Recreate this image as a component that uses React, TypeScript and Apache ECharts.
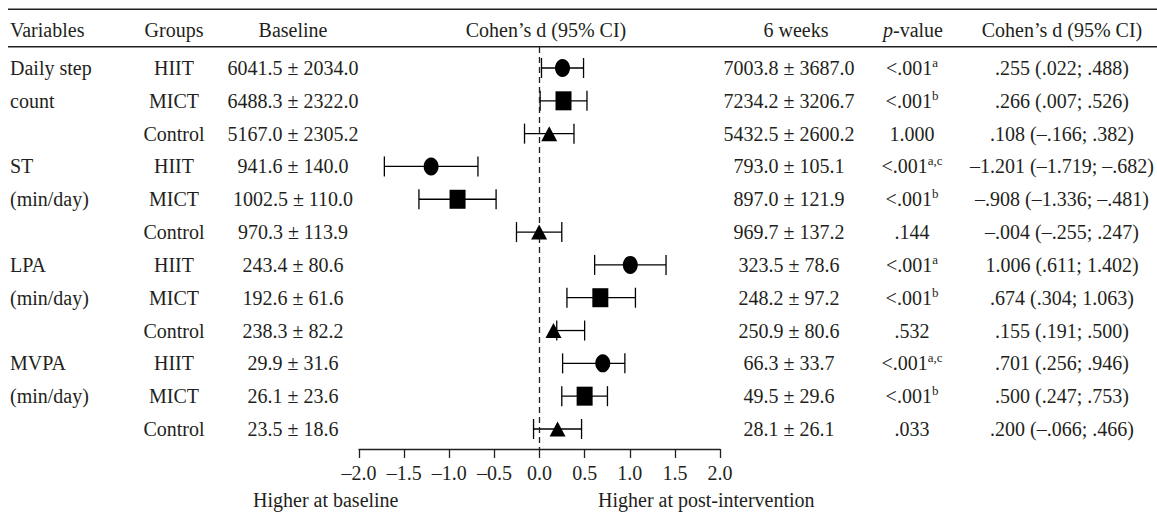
import React, { useEffect, useRef } from "react";
import * as echarts from "echarts";

const FONT = '"Liberation Serif", "Times New Roman", serif';
const INK = "#231f20";
const FS = 20;

const variables = ["Daily step", "count", "", "ST", "(min/day)", "", "LPA", "(min/day)", "", "MVPA", "(min/day)", ""];
const groups = ["HIIT", "MICT", "Control", "HIIT", "MICT", "Control", "HIIT", "MICT", "Control", "HIIT", "MICT", "Control"];
const baseline = [
  "6041.5 ± 2034.0", "6488.3 ± 2322.0", "5167.0 ± 2305.2",
  "941.6 ± 140.0", "1002.5 ± 110.0", "970.3 ± 113.9",
  "243.4 ± 80.6", "192.6 ± 61.6", "238.3 ± 82.2",
  "29.9 ± 31.6", "26.1 ± 23.6", "23.5 ± 18.6",
];
const weeks6 = [
  "7003.8 ± 3687.0", "7234.2 ± 3206.7", "5432.5 ± 2600.2",
  "793.0 ± 105.1", "897.0 ± 121.9", "969.7 ± 137.2",
  "323.5 ± 78.6", "248.2 ± 97.2", "250.9 ± 80.6",
  "66.3 ± 33.7", "49.5 ± 29.6", "28.1 ± 26.1",
];
const pValues = ["<.001", "<.001", "1.000", "<.001", "<.001", ".144", "<.001", "<.001", ".532", "<.001", "<.001", ".033"];
const pSup = ["a", "b", "", "a,c", "b", "", "a", "b", "", "a,c", "b", ""];
const cohenText = [
  ".255 (.022; .488)", ".266 (.007; .526)", ".108 (–.166; .382)",
  "–1.201 (–1.719; –.682)", "–.908 (–1.336; –.481)", "–.004 (–.255; .247)",
  "1.006 (.611; 1.402)", ".674 (.304; 1.063)", ".155 (.191; .500)",
  ".701 (.256; .946)", ".500 (.247; .753)", ".200 (–.066; .466)",
];
const dValues = [0.255, 0.266, 0.108, -1.201, -0.908, -0.004, 1.006, 0.674, 0.155, 0.701, 0.5, 0.2];
const ciLow = [0.022, 0.007, -0.166, -1.719, -1.336, -0.255, 0.611, 0.304, 0.191, 0.256, 0.247, -0.066];
const ciHigh = [0.488, 0.526, 0.382, -0.682, -0.481, 0.247, 1.402, 1.063, 0.5, 0.946, 0.753, 0.466];
const headers = ["Variables", "Groups", "Baseline", "Cohen’s d (95% CI)", "6 weeks", "p-value", "Cohen’s d (95% CI)"];

export default function App() {
  const ref = useRef<HTMLDivElement>(null);
  useEffect(() => {
    if (!ref.current) return;
    const chart = echarts.init(ref.current, undefined, { renderer: "svg" });
    const symbolFor: Record<string, any> = {
      HIIT: { symbol: "circle", size: [15, 18] },
      MICT: { symbol: "rect", size: [16, 19] },
      Control: { symbol: "triangle", size: [16, 15] },
    };
    const scatterSeries = ["HIIT", "MICT", "Control"].map((g) => ({
      type: "scatter",
      name: g,
      symbol: symbolFor[g].symbol,
      symbolSize: symbolFor[g].size,
      itemStyle: { color: "#000", opacity: 1 },
      z: 5,
      silent: true,
      data: dValues.map((d, i) => (groups[i] === g ? [d, i] : null)).filter((v) => v),
    }));
    chart.setOption({
      animation: false,
      grid: { left: 359, width: 361, top: 47, height: 402 },
      xAxis: {
        type: "value",
        min: -2,
        max: 2,
        interval: 0.5,
        axisLine: { show: true, onZero: false, lineStyle: { color: INK, width: 1.3 } },
        axisTick: { show: true, inside: false, length: 9, lineStyle: { color: INK, width: 1.3 } },
        splitLine: { show: false },
        axisLabel: {
          margin: 14,
          fontFamily: FONT,
          fontSize: FS,
          color: INK,
          formatter: (v: number) => (v < 0 ? "–" : "") + Math.abs(v).toFixed(1),
        },
      },
      yAxis: { type: "value", inverse: true, min: -0.64, max: 11.61, show: false },
      series: [
        {
          type: "custom",
          silent: true,
          z: 3,
          data: ciLow.map((lo, i) => [lo, ciHigh[i], i]),
          encode: { x: [0, 1], y: 2 },
          renderItem: (params: any, api: any) => {
            const lo = api.value(0);
            const hi = api.value(1);
            const row = api.value(2);
            const p1 = api.coord([lo, row]);
            const p2 = api.coord([hi, row]);
            const h = 10;
            const st = { stroke: "#000", lineWidth: 1.3 };
            return {
              type: "group",
              children: [
                { type: "line", shape: { x1: p1[0], y1: p1[1], x2: p2[0], y2: p2[1] }, style: st },
                { type: "line", shape: { x1: p1[0], y1: p1[1] - h, x2: p1[0], y2: p1[1] + h }, style: st },
                { type: "line", shape: { x1: p2[0], y1: p2[1] - h, x2: p2[0], y2: p2[1] + h }, style: st },
              ],
            };
          },
          markLine: {
            silent: true,
            symbol: "none",
            label: { show: false },
            lineStyle: { type: [6, 4], color: INK, width: 1.3 },
            data: [{ xAxis: 0 }],
          },
        },
        ...scatterSeries,
      ],
    });

    const rowY = (i: number) => chart.convertToPixel({ yAxisIndex: 0 } as any, i) as number;
    const txt = (text: string, x: number, y: number, align: string, extra: any = {}) => ({
      type: "text",
      silent: true,
      style: {
        text,
        x,
        y,
        font: `${FS}px ${FONT}`,
        fill: INK,
        align,
        verticalAlign: "middle",
        textAlign: align,
        textVerticalAlign: "middle",
        ...extra,
      },
    });
    const headerX = [10, 174, 293, 546, 796, 913, 1062];
    const headerAlign = ["left", "center", "center", "center", "center", "center", "center"];
    const elements: any[] = [];
    elements.push({ type: "line", silent: true, shape: { x1: 8, y1: 9.3, x2: 1157, y2: 9.3 }, style: { stroke: INK, lineWidth: 1.4 } });
    elements.push({ type: "line", silent: true, shape: { x1: 8, y1: 46.7, x2: 1157, y2: 46.7 }, style: { stroke: INK, lineWidth: 1.4 } });
    headers.forEach((h, k) => {
      if (h === "p-value") {
        elements.push(
          txt("{i|p}{n|-value}", headerX[k], 30, "center", {
            rich: {
              i: { font: `italic ${FS}px ${FONT}`, fill: INK, color: INK },
              n: { font: `${FS}px ${FONT}`, fill: INK, color: INK },
            },
          })
        );
      } else {
        elements.push(txt(h, headerX[k], 30, headerAlign[k]));
      }
    });
    for (let i = 0; i < variables.length; i++) {
      const y = rowY(i);
      if (variables[i]) elements.push(txt(variables[i], 10, y, "left"));
      elements.push(txt(groups[i], 174, y, "center"));
      elements.push(txt(baseline[i], 293, y, "center"));
      elements.push(txt(weeks6[i], 789, y, "center"));
      const pRich = pSup[i] ? `{n|${pValues[i]}}{s|${pSup[i]}}` : `{n|${pValues[i]}}`;
      elements.push(
        txt(pRich, 912, y, "center", {
          rich: {
            n: { font: `${FS}px ${FONT}`, fill: INK, color: INK, lineHeight: 24, verticalAlign: "middle" },
            s: { font: `13px ${FONT}`, fill: INK, color: INK, lineHeight: 12, verticalAlign: "top" },
          },
        })
      );
      elements.push(txt(cohenText[i], 1062, y, "center"));
    }
    elements.push(txt("Higher at baseline", 253, 500, "left"));
    elements.push(txt("Higher at post-intervention", 598, 500, "left"));
    chart.setOption({ graphic: { elements } });

    return () => chart.dispose();
  }, []);
  return (
    <div
      ref={ref}
      style={{ position: "fixed", left: 0, top: 0, width: 1157, height: 517, background: "#fff" }}
    />
  );
}
